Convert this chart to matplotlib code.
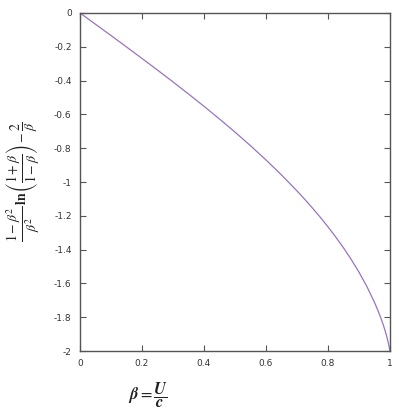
import matplotlib
import numpy as np
import matplotlib.pyplot as plt

matplotlib.use('Agg')

# points
beta = [0.0, 0.05, 0.1, 0.15, 0.2, 0.25, 0.3, 0.35, 0.4, 0.45, 0.5, 0.55,
        0.6, 0.65, 0.7, 0.725, 0.75, 0.775, 0.8, 0.825, 0.85, 0.875, 0.9,
        0.925, 0.95, 0.96, 0.97, 0.98, 0.985, 0.99, 0.995, 0.9975, 0.999, 1.0]
value = [0.0, -0.0667, -0.1334, -0.2009, -0.2688, -0.3376, -0.4075, -0.4788,
         -0.5517, -0.6267, -0.7042, -0.7846, -0.8688, -0.9575, -1.0517,
         -1.1014, -1.1532, -1.2073, -1.2641, -1.3241, -1.3880, -1.4567,
         -1.5316, -1.6146, -1.7095, -1.7523, -1.7990, -1.8513, -1.8805,
         -1.9127, -1.9497, -1.9715, -1.9868, -2.0]

xticks = [0, 0.2, 0.4, 0.6, 0.8, 1]
xticklabels = ['0', '0.2', '0.4', '0.6', '0.8', '1']
yticks = [0, -0.2, -0.4, -0.6, -0.8, -1, -1.2, -1.4, -1.6, -1.8, -2]
yticklabels = ['0', '-0.2', '-0.4', '-0.6', '-0.8', '-1', '-1.2', '-1.4',
               '-1.6', '-1.8', '-2']

plt.rcParams['mathtext.fontset'] = 'stix'

fig = plt.figure(figsize=(3.99, 4.18), dpi=100)
ax = fig.add_axes([0.2005, 0.160, 0.7765, 0.809])

ax.plot(beta, value, color='#9874bf', lw=0.9)

ax.set_xlim(0, 1)
ax.set_ylim(-2, 0)
ax.set_xticks(xticks, xticklabels)
ax.set_yticks(yticks, yticklabels)
ax.tick_params(direction='in', length=4, width=0.8, top=True, right=True,
               labelsize=6.5, labelcolor='#333333', color='#555555', pad=6)
for s in ax.spines.values():
    s.set_color('#555555')
    s.set_linewidth(1.0)

fig.text(0.058, 0.565,
         r'$\dfrac{1-\beta^2}{\beta^2}\,\mathbf{ln}\left(\dfrac{1+\beta}{1-\beta}\right)-\dfrac{2}{\beta}$',
         rotation=90, ha='center', va='center', fontsize=10, color='#222222')
fig.text(0.371, 0.055,
         r'$\boldsymbol{\beta}=\dfrac{\boldsymbol{U}}{\boldsymbol{c}}$',
         ha='center', va='center', fontsize=12, color='#222222')

plt.savefig('out.png')
